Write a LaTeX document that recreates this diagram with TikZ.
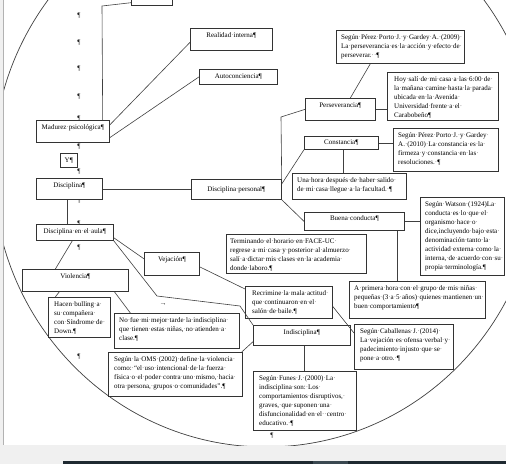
\documentclass[tikz,border=0pt]{standalone}
\usepackage{fontspec}
\setmainfont{Liberation Serif}
\usepackage{newunicodechar}
\newunicodechar{·}{\textcolor{black!55}{\char"00B7}}
\definecolor{taskbar}{HTML}{1E2930}
\definecolor{taskhi}{HTML}{3A4850}

\begin{document}
\begin{tikzpicture}[x=1pt, y=-1pt,
    box/.style={draw=black!80, fill=white, line width=0.7pt, inner sep=0pt, anchor=north west},
    titlebox/.style={box, align=center, font=\fontsize{7}{9}\selectfont, text height=9.5pt},
    boxtext/.style={anchor=north west, inner sep=0pt, align=left, font=\fontsize{7}{9}\selectfont},
    link/.style={draw=black!75, line width=0.6pt},
    pilcrow/.style={inner sep=0pt, font=\fontsize{7}{9}\selectfont, text=black!85}]
    \useasboundingbox (0,0) rectangle (506,464);

    % window round the page
    \fill[gray!12] (0,0) rectangle (506,464);
    \fill[white] (4,0) rectangle (506,445);
    \draw[gray!60, line width=0.6pt] (3.5,0) -- (3.5,445);
    \fill[taskbar] (63,461) rectangle (506,464);
    \fill[taskhi] (313,461) rectangle (348,464);

    \begin{scope}
    \clip (4,0) rectangle (506,445);

    % the big oval
    \draw[black!75, line width=0.7pt] (266,168) ellipse [x radius=273pt, y radius=279pt];

    % paragraph marks of the page
    \foreach \py [count=\i] in {16,43,69,97,119,147,172,201,224,248,357}
        \node[pilcrow] (pil\i) at (79,\py) {¶};
    \node[pilcrow] (pilend) at (272,436) {¶};
    \node[pilcrow] (tabmark) at (163,305) {→};

    % left column
    \node[titlebox, minimum width=41pt, text depth=3.5pt] (topbox) at (131,-8) {};
    \node[titlebox, minimum width=73pt, text depth=12.5pt] (madurez) at (36,120) {Madurez·psicológica¶};
    \node[titlebox, minimum width=17pt, text depth=4.5pt] (ybox) at (60,153) {Y¶};
    \node[titlebox, minimum width=66pt, text depth=11.5pt] (disciplina) at (36,178) {Disciplina¶};
    \node[titlebox, minimum width=77pt, text depth=6.5pt] (aula) at (36,224) {Disciplina·en·el·aula¶};
    \node[titlebox, minimum width=106pt, text depth=12.5pt] (violencia) at (22,269) {Violencia¶};
    \node[titlebox, minimum width=55pt, text depth=13.5pt] (vejacion) at (144,252) {Vejación¶};

    % Madurez psicologica
    \node[titlebox, minimum width=82pt, text depth=12.5pt] (realidad) at (190,28) {Realidad·interna¶};
    \node[titlebox, minimum width=78pt, text depth=5.5pt] (autocon) at (199,69) {Autoconciencia¶};

    % Disciplina personal
    \node[titlebox, minimum width=90pt, text height=12pt, text depth=8pt] (dpersonal) at (191,179) {Disciplina·personal¶};
    \node[titlebox, minimum width=70pt, text depth=12.5pt] (persev) at (305,98) {Perseverancia¶};
    \node[titlebox, minimum width=74pt, text height=8pt, text depth=5pt] (constancia) at (304,136) {Constancia¶};
    \node[titlebox, minimum width=100pt, text height=8pt, text depth=10pt] (buena) at (304,212) {Buena·conducta¶};

    \node[box, minimum width=128pt, minimum height=33pt] (pp2009) at (336,30) {};
    \node[boxtext] (pp2009txt) at ([shift={(5pt,-4pt)}]pp2009.north west)
        {Según·Pérez·Porto·J.·y·Gardey·A.·(2009)·\\La·perseverancia·es·la·acción·y·efecto·de·\\perseverar.··¶};
    \node[box, minimum width=111pt, minimum height=48pt] (hoy) at (387,72) {};
    \node[boxtext] (hoytxt) at ([shift={(7pt,-4pt)}]hoy.north west)
        {Hoy·salí·de·mi·casa·a·las·6:00·de·\\la·mañana·camine·hasta·la·parada·\\ubicada·en·la·Avenida·\\Universidad·frente·a·el·\\Carabobeño¶};
    \node[box, minimum width=105pt, minimum height=43pt] (pp2010) at (393,128) {};
    \node[boxtext] (pp2010txt) at ([shift={(5pt,-4pt)}]pp2010.north west)
        {Según·Pérez·Porto·J.·y·Gardey·\\A.·(2010)·La·constancia·es·la·\\firmeza·y·constancia·en·las·\\resoluciones.·¶};
    \node[box, minimum width=114pt, minimum height=26pt] (unahora) at (292,173) {};
    \node[boxtext] (unahoratxt) at ([shift={(5pt,-4pt)}]unahora.north west)
        {Una·hora·después·de·haber·salido·\\de·mi·casa·llegue·a·la·facultad.·¶};
    \node[box, minimum width=84pt, minimum height=78pt] (watson) at (420,197) {};
    \node[boxtext] (watsontxt) at ([shift={(5pt,-4pt)}]watson.north west)
        {Según·Watson·(1924)La·\\conducta·es·lo·que·el·\\organismo·hace·o·\\dice,incluyendo·bajo·esta·\\denominación·tanto·la·\\actividad·externa·como·la·\\interna,·de·acuerdo·con·su·\\propia·terminología.¶};
    \node[box, minimum width=136pt, minimum height=37pt] (primera) at (349,281) {};
    \node[boxtext] (primeratxt) at ([shift={(5pt,-4pt)}]primera.north west)
        {A·primera·hora·con·el·grupo·de·mis·niñas·\\pequeñas·(3·a·5·años)·quienes·mantienen·un·\\buen·comportamiento¶};
    \node[box, minimum width=140pt, minimum height=39pt] (terminando) at (226,234) {};
    \node[boxtext] (terminandotxt) at ([shift={(4pt,-4pt)}]terminando.north west)
        {Terminando·el·horario·en·FACE-UC·\\regrese·a·mi·casa·y·posterior·al·almuerzo·\\salí·a·dictar·mis·clases·en·la·academia·\\donde·laboro.¶};

    % Disciplina en el aula
    \node[box, minimum width=87pt, minimum height=32pt] (recrimine) at (245,286) {};
    \node[boxtext] (recriminetxt) at ([shift={(7pt,-4pt)}]recrimine.north west)
        {Recrimine·la·mala·actitud·\\que·continuaron·en·el·\\salón·de·baile.¶};
    \node[titlebox, minimum width=97pt, text depth=10.5pt] (indisc) at (253,325) {Indisciplina¶};
    \node[box, minimum width=99pt, minimum height=45pt] (caballenas) at (354,324) {};
    \node[boxtext] (caballenastxt) at ([shift={(6pt,-4pt)}]caballenas.north west)
        {Según·Caballenas·J.·(2014)·\\La·vejación·es·ofensa·verbal·y·\\padecimiento·injusto·que·se·\\pone·a·otro.·¶};
    \node[box, minimum width=103pt, minimum height=59pt] (funes) at (253,371) {};
    \node[boxtext] (funestxt) at ([shift={(6pt,-4pt)}]funes.north west)
        {Según·Funes·J.·(2000)·La·\\indisciplina·son:·Los·\\comportamientos·disruptivos,·\\graves,·que·suponen·una·\\disfuncionalidad·en·el··centro·\\educativo.·¶};
    \node[box, minimum width=62pt, minimum height=40pt] (hacen) at (48,297) {};
    \node[boxtext] (hacentxt) at ([shift={(6pt,-4pt)}]hacen.north west)
        {Hacen·bulling·a·\\su·compañera·\\con·Síndrome·de·\\Down.¶};
    \node[box, minimum width=125pt, minimum height=35pt] (nofue) at (114,313) {};
    \node[boxtext] (nofuetxt) at ([shift={(5pt,-4pt)}]nofue.north west)
        {No·fue·mi·mejor·tarde·la·indisciplina·\\que·tienen·estas·niñas,·no·atienden·a·\\clase.¶};
    \node[box, minimum width=134pt, minimum height=44pt] (oms) at (108,352) {};
    \node[boxtext] (omstxt) at ([shift={(6pt,-4pt)}]oms.north west)
        {Según·la·OMS·(2002)·define·la·violencia·\\como:·“el·uso·intencional·de·la·fuerza·\\física·o·el·poder·contra·uno·mismo,·hacia·\\otra·persona,·grupos·o·comunidades”.¶};

    % connectors
    \coordinate (topbend) at (102,6);
    \coordinate (persbend) at (281,117);
    \coordinate (indbend1) at (157,296);
    \coordinate (indbend2) at (240,306);
    \draw[link] ([xshift=-7pt]madurez.north east) -- (topbend) -- ([yshift=3pt]topbox.south west);
    \draw[link] ([yshift=-5pt]madurez.north east) -- ([yshift=-3pt]realidad.west);
    \draw[link] ([yshift=5pt]madurez.south east) -- (autocon.west);
    \draw[link] (disciplina.east) -- (disciplina.east -| dpersonal.west);
    \draw[link] ([xshift=-2pt]disciplina.south) -- ([xshift=-2pt]disciplina.south |- aula.north);
    \draw[link] (dpersonal.north east) -- (persbend) -- (persev.west);
    \draw[link] ([xshift=10pt]persev.north) -- ([xshift=-30pt]pp2009.south);
    \draw[link] (persev.east) -- (persev.east -| hoy.west);
    \draw[link] ([yshift=-5pt]dpersonal.north east) -- (constancia.south west);
    \draw[link] (constancia.east) -- (constancia.east -| pp2010.west);
    \draw[link] ([xshift=2pt]constancia.south) -- ([xshift=2pt]constancia.south |- unahora.north);
    \draw[link] (dpersonal.south east) -- (buena.west);
    \draw[link] (buena.east) -- (buena.east -| watson.west);
    \draw[link] ([xshift=43pt]buena.south) -- ([xshift=43pt]buena.south |- primera.north);
    \draw[link] ([xshift=-2.5pt]aula.south) -- ([xshift=-20pt]violencia.north);
    \draw[link] ([yshift=3pt]aula.south east) -- ([yshift=5pt]vejacion.west);
    \draw[link] (aula.south east) -- (indbend1) -- (indbend2) -- (indisc.north west);
    \draw[link] ([yshift=-3pt]vejacion.east) -- ([yshift=-3pt]recrimine.north west);
    \draw[link] ([yshift=-4pt]recrimine.east) -- ([yshift=-9pt]caballenas.north west);
    \draw[link] ([xshift=-16pt]violencia.south) -- ([xshift=-24pt]hacen.north);
    \draw[link] ([xshift=39pt]violencia.south) -- ([xshift=-46.5pt]nofue.north);
    \draw[link] ([yshift=4pt]indisc.south west) -- ([xshift=-1pt]oms.north east);
    \draw[link] ([xshift=2.5pt]indisc.south) -- ([xshift=2.5pt]indisc.south |- funes.north);
    \end{scope}
\end{tikzpicture}
\end{document}
